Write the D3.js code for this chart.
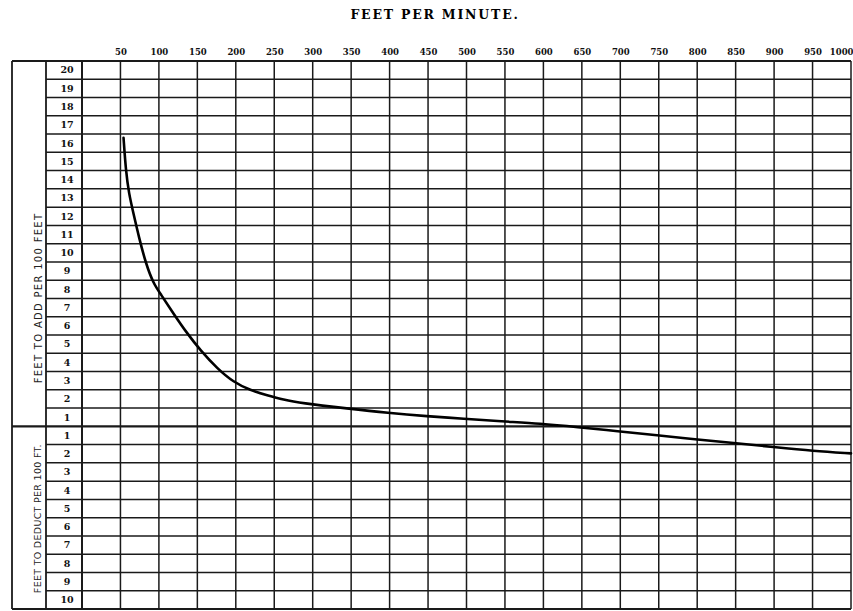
<!DOCTYPE html>
<html>
<head>
<meta charset="utf-8">
<script src="https://cdn.jsdelivr.net/npm/d3@7/dist/d3.min.js"></script>
<style>
html,body{margin:0;padding:0;background:#fff;overflow:hidden;}
svg{display:block;}
</style>
</head>
<body>
<script>
// ---- data ----
const title = "FEET PER MINUTE.";
const speedTicks = [50,100,150,200,250,300,350,400,450,500,550,600,650,700,750,800,850,900,950,1000];
const addLabels = [20,19,18,17,16,15,14,13,12,11,10,9,8,7,6,5,4,3,2,1];
const deductLabels = [1,2,3,4,5,6,7,8,9,10];
const addTitle = "FEET TO ADD PER 100 FEET";
const deductTitle = "FEET TO DEDUCT PER 100 FT.";
const speeds = [54,57,61,67,74,83,93,102,119,137,154,176,197,219,241,262,284,346,398,449,496,546,596,644,697,748,797,847,899,951,1000];
const corrections = [15.8,14.0,12.74,11.64,10.36,8.91,7.81,7.26,6.17,5.07,4.16,3.16,2.42,1.97,1.70,1.46,1.28,0.97,0.73,0.55,0.42,0.27,0.15,-0.04,-0.27,-0.49,-0.71,-0.91,-1.13,-1.35,-1.48];

// ---- layout ----
const W = 853, H = 611;
const outerLeft = 12, numColLeft = 46;
const x = d3.scaleLinear().domain([0,1000]).range([82,851]);
const y = d3.scaleLinear().domain([-10,20]).range([609,61]);

const svg = d3.select("body").append("svg").attr("width",W).attr("height",H);
const ink = "#1a1a1a";

// title
svg.append("text").attr("x",435).attr("y",19).attr("text-anchor","middle")
  .attr("font-family","DejaVu Serif").attr("font-weight","bold").attr("font-size",12.5)
  .attr("letter-spacing",1.8).attr("fill","#000").text(title);

// horizontal grid lines (every unit)
const hVals = d3.range(-10,21);
svg.append("g").selectAll("line").data(hVals).join("line")
  .attr("x1",d => (d===0||d===20) ? outerLeft : numColLeft).attr("x2",x(1000))
  .attr("y1",d=>y(d)).attr("y2",d=>y(d))
  .attr("stroke",ink).attr("stroke-width",d => d===0 ? 2.4 : (d===20 ? 2 : 1.5));

// vertical grid lines
svg.append("g").selectAll("line").data([0].concat(speedTicks)).join("line")
  .attr("x1",d=>x(d)).attr("x2",d=>x(d))
  .attr("y1",y(20)).attr("y2",y(-10))
  .attr("stroke",ink).attr("stroke-width",d => d===0 ? 2 : 1.5);

// left column borders
[outerLeft, numColLeft].forEach(px => {
  svg.append("line").attr("x1",px).attr("x2",px).attr("y1",y(20)).attr("y2",y(-10))
    .attr("stroke",ink).attr("stroke-width",1.8);
});
svg.append("line").attr("x1",outerLeft).attr("x2",x(1000)).attr("y1",y(-10)).attr("y2",y(-10))
  .attr("stroke",ink).attr("stroke-width",1.8);

// top axis (speed labels)
const topAxis = d3.axisTop(x).tickValues(speedTicks).tickSize(0).tickPadding(6).tickFormat(d3.format("d"));
const gTop = svg.append("g").attr("transform",`translate(0,${y(20)})`).call(topAxis);
gTop.select(".domain").remove();
gTop.selectAll("text").attr("font-family","DejaVu Serif").attr("font-weight","bold")
  .attr("font-size",8.5).attr("fill","#111");
// keep last label inside the window
gTop.selectAll(".tick").filter(d => d===1000).select("text")
  .attr("text-anchor","end").attr("x",2);

// row labels (add section)
svg.append("g").selectAll("text").data(addLabels).join("text")
  .attr("x",67).attr("y",d=>y(d-0.5)).attr("dy","0.35em").attr("text-anchor","middle")
  .attr("font-family","DejaVu Serif").attr("font-weight","bold").attr("font-size",9.5)
  .attr("fill","#111").text(d=>d);
// row labels (deduct section)
svg.append("g").selectAll("text").data(deductLabels).join("text")
  .attr("x",67).attr("y",d=>y(-(d-0.5))).attr("dy","0.35em").attr("text-anchor","middle")
  .attr("font-family","DejaVu Serif").attr("font-weight","bold").attr("font-size",9.5)
  .attr("fill","#111").text(d=>d);

// rotated section titles
svg.append("text").attr("transform",`translate(38,${298}) rotate(-90)`)
  .attr("text-anchor","middle").attr("dy","0.35em")
  .attr("font-family","DejaVu Sans").attr("font-size",10).attr("letter-spacing",1.3)
  .attr("fill","#222").text(addTitle);
svg.append("text").attr("transform",`translate(38,${(y(0)+y(-10))/2+1}) rotate(-90)`)
  .attr("text-anchor","middle").attr("dy","0.35em")
  .attr("font-family","DejaVu Sans").attr("font-size",9.5).attr("letter-spacing",0.3)
  .attr("fill","#222").text(deductTitle);

// curve
const pts = speeds.map((s,i)=>[s,corrections[i]]);
const line = d3.line().x(d=>x(d[0])).y(d=>y(d[1])).curve(d3.curveBasis);
svg.append("path").datum(pts).attr("d",line)
  .attr("fill","none").attr("stroke","#000").attr("stroke-width",2.6)
  .attr("stroke-linecap","round");
</script>
</body>
</html>
